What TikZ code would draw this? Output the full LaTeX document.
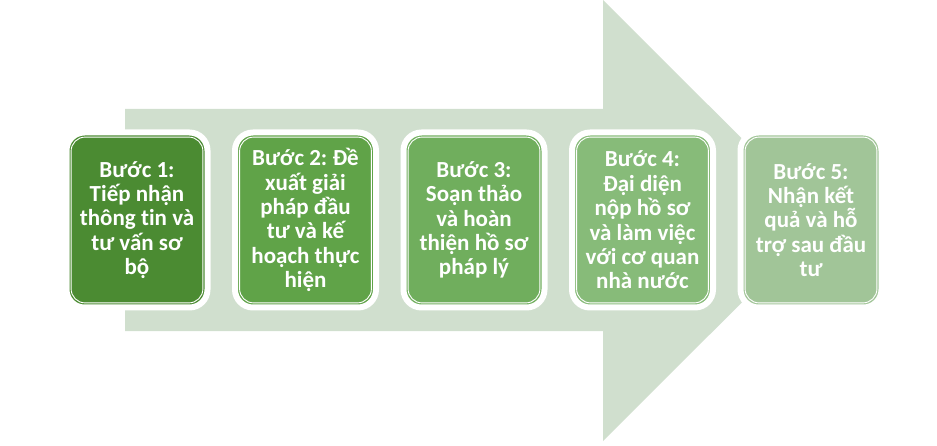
\documentclass[tikz,border=0pt]{standalone}
\usepackage{fontspec}
\setmainfont{Carlito}[Ligatures=NoCommon]
\frenchspacing
\definecolor{arrowgreen}{RGB}{208,223,206}
\definecolor{stepa}{RGB}{75,139,50}
\definecolor{stepb}{RGB}{96,163,72}
\definecolor{stepc}{RGB}{112,174,93}
\definecolor{stepd}{RGB}{135,187,121}
\definecolor{stepe}{RGB}{161,197,152}

\begin{document}
\begin{tikzpicture}[x=1pt, y=-1pt,
	stepbox/.style={rounded corners=18pt, minimum width=141pt, minimum height=175pt,
		align=center, text=white, font=\fontsize{23}{24.4}\selectfont\bfseries,
		fill=#1, draw=white, line width=6pt,
		path picture={\draw[white, line width=0.9pt, rounded corners=14pt]
			([shift={(4.6pt,-4.6pt)}]path picture bounding box.north west) rectangle
			([shift={(-4.6pt,4.6pt)}]path picture bounding box.south east);}}]
	\useasboundingbox (0,0) rectangle (937,446);
	\fill[arrowgreen] (125,109) -- (603,109) -- (603,0) -- (824,220.5)
		-- (603,441) -- (603,331) -- (125,331) -- cycle;
	\node[stepbox=stepa] (b1) at (137,220) {Bước 1:\\Tiếp nhận\\thông tin và\\tư vấn sơ\\bộ};
	\node[stepbox=stepb] (b2) at (305.5,220) {Bước 2: Đề\\xuất giải\\pháp đầu\\tư và kế\\hoạch thực\\hiện};
	\node[stepbox=stepc] (b3) at (474,220) {Bước 3:\\Soạn thảo\\và hoàn\\thiện hồ sơ\\pháp lý};
	\node[stepbox=stepd] (b4) at (642.5,220) {Bước 4:\\Đại diện\\nộp hồ sơ\\và làm việc\\với cơ quan\\nhà nước};
	\node[stepbox=stepe] (b5) at (811,220) {Bước 5:\\Nhận kết\\quả và hỗ\\trợ sau đầu\\tư};
\end{tikzpicture}
\end{document}
